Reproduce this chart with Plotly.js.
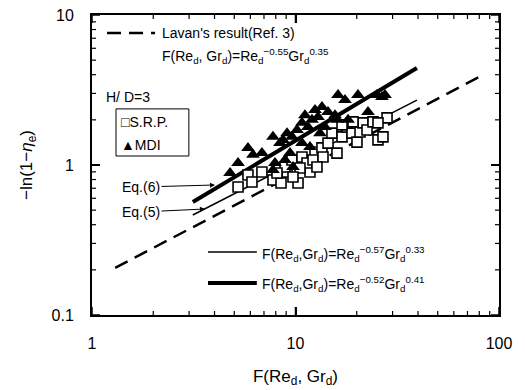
<!DOCTYPE html>
<html><head><meta charset="utf-8">
<script src="https://cdn.plot.ly/plotly-3.0.1.min.js"></script>
<style>body{margin:0;background:#fff}</style>
</head><body><div id="chart" style="width:525px;height:390px"></div>
<script>
// S.R.P. data (open squares)
const srpX = [5.22,5.84,6.11,6.84,7.75,8.49,10.29,9.09,8.88,9.61,10.76,11.78,11.39,12.47,13.49,14.45,15.99,15.11,16.93,17.91,18.95,20.05,20.75,21.47,22.46,16.93,24.04,25.43,26.91,28.17,25.43,19.17,12.19,13.65,12.75,10.52,8.11,9.72];
const srpY = [0.714,0.858,0.770,0.898,0.794,0.759,0.759,0.898,0.97,1.08,1.13,0.898,1.03,1.22,1.30,1.40,1.20,1.63,1.54,1.79,1.63,1.42,1.66,1.91,1.71,1.85,1.94,1.47,1.54,2.06,1.91,1.94,1.08,1.13,0.97,0.955,0.885,0.832];
// MDI data (filled triangles)
const mdiX = [4.77,5.22,5.84,6.18,6.84,7.75,8.39,8.68,9.09,9.61,10.17,10.76,11.13,11.52,12.05,12.47,12.90,13.49,14.45,15.64,16.18,17.51,20.28,22.71,25.15,27.53,26.61,7.93,8.88,9.40,10.76,11.78,13.19,13.96,18.12,15.99,9.72,7.75];
const mdiY = [0.885,1.03,1.30,1.17,1.20,1.54,1.40,1.47,1.63,1.54,1.71,1.91,2.15,1.79,2.00,2.33,2.09,2.44,2.26,2.15,2.93,2.71,2.93,2.26,2.93,2.93,2.84,1.03,1.08,1.20,1.40,1.32,1.63,1.79,2.00,2.00,0.97,0.926];
// Correlation lines
const lavanX = [1.30, 83.4], lavanY = [0.206, 3.98];
const eq5X = [3.13, 39.5], eq5Y = [0.464, 2.71];
const eq6X = [3.13, 39.5], eq6Y = [0.567, 4.43];
// Tick values and labels
const xTickVals = [1, 10, 100], xTickText = ['1', '10', '100'];
const yTickVals = [0.1, 1, 10], yTickText = ['0.1', '1', '10'];
const xMinorVals = [2,3,4,5,6,7,8,9,20,30,40,50,60,70,80,90];
const yMinorVals = [0.2,0.3,0.4,0.5,0.6,0.7,0.8,0.9,2,3,4,5,6,7,8,9];

const F = 'Liberation Sans, Arial, sans-serif';
const traces = [
  {x: [], y: [], xaxis: 'x3', yaxis: 'y3', mode: 'lines', showlegend: false, hoverinfo: 'skip'},
  {x: lavanX, y: lavanY, mode: 'lines', line: {color: '#000', width: 2.5, dash: '14px,8px'}, showlegend: false, name: "Lavan's result(Ref. 3)"},
  {x: eq5X, y: eq5Y, mode: 'lines', line: {color: '#000', width: 1.5}, showlegend: false, name: 'Eq.(5)'},
  {x: eq6X, y: eq6Y, mode: 'lines', line: {color: '#000', width: 4}, showlegend: false, name: 'Eq.(6)'},
  {x: srpX, y: srpY, mode: 'markers', marker: {symbol: 'square', size: 10, color: '#fff', line: {color: '#000', width: 1.6}}, showlegend: false, name: 'S.R.P.'},
  {x: mdiX, y: mdiY, mode: 'markers', marker: {symbol: 'triangle-up', size: 12, color: '#000', line: {width: 0}}, showlegend: false, name: 'MDI'}
];

// Inward tick marks on all four sides, placed on the log axes by value
const tickShapes = [];
function xTick(v, len, w) {
  tickShapes.push({type: 'line', xref: 'x', yref: 'paper', x0: v, x1: v, ysizemode: 'pixel', yanchor: 0, y0: 0, y1: len, line: {color: '#000', width: w}, layer: 'above'});
  tickShapes.push({type: 'line', xref: 'x', yref: 'paper', x0: v, x1: v, ysizemode: 'pixel', yanchor: 1, y0: 0, y1: -len, line: {color: '#000', width: w}, layer: 'above'});
}
function yTick(v, len, w) {
  tickShapes.push({type: 'line', yref: 'y', xref: 'paper', y0: v, y1: v, xsizemode: 'pixel', xanchor: 0, x0: 0, x1: len, line: {color: '#000', width: w}, layer: 'above'});
  tickShapes.push({type: 'line', yref: 'y', xref: 'paper', y0: v, y1: v, xsizemode: 'pixel', xanchor: 1, x0: 0, x1: -len, line: {color: '#000', width: w}, layer: 'above'});
}
xTickVals.forEach(v => xTick(v, 8, 1.5));
xMinorVals.forEach(v => xTick(v, 4, 1.2));
yTickVals.forEach(v => yTick(v, 8, 1.5));
yMinorVals.forEach(v => yTick(v, 4, 1.2));

const sub = 'F(Re<sub>d</sub>,Gr<sub>d</sub>)=Re<sub>d</sub>';
const ann = (x, y, text, opts) => Object.assign({xref: 'paper', yref: 'paper', x, y, text, showarrow: false, xanchor: 'left', yanchor: 'middle', font: {family: F, size: 14, color: '#000'}}, opts || {});
const noGrid = {showgrid: true, gridcolor: 'rgba(0,0,0,0)', gridwidth: 1};
// main axes: frame + major inside ticks
const majorCommon = Object.assign({type: 'log', showline: true, linecolor: '#000', linewidth: 2, mirror: 'allticks', ticks: 'inside', ticklen: 8, tickwidth: 1.5, tickcolor: '#000',
  showticklabels: false, tickmode: 'array'}, noGrid);
// overlay axes: labels pushed out by invisible outside ticks
const labelCommon = Object.assign({type: 'log', showline: false, ticks: 'outside', ticklen: 14, tickcolor: 'rgba(0,0,0,0)',
  showticklabels: true, tickmode: 'array', tickfont: {size: 16, family: F, color: '#000'}}, noGrid);
const layout = {
  width: 525, height: 390,
  margin: {l: 92, r: 26, t: 15, b: 75},
  xaxis: Object.assign({}, majorCommon, {range: [0, 2], tickvals: xTickVals, ticktext: xTickText}),
  yaxis: Object.assign({}, majorCommon, {range: [-1, 1], tickvals: yTickVals, ticktext: yTickText}),
  xaxis3: Object.assign({}, labelCommon, {range: [0, 2], tickvals: xTickVals, ticktext: xTickText, overlaying: 'x', anchor: 'y3', side: 'bottom',
    title: {text: 'F(Re<sub>d</sub>, Gr<sub>d</sub>)', font: {size: 17, family: F, color: '#000'}, standoff: 18}}),
  yaxis3: Object.assign({}, labelCommon, {range: [-1, 1], tickvals: yTickVals, ticktext: yTickText, overlaying: 'y', anchor: 'x3', side: 'left',
    title: {text: '−ln(1−<i>η</i><sub>e</sub>)', font: {size: 17, family: F, color: '#000'}, standoff: 14}}),
  shapes: [
    {type: 'line', xref: 'paper', yref: 'paper', x0: 0.037, x1: 0.155, y0: 0.94, y1: 0.94, line: {color: '#000', width: 2.5, dash: '14px,8px'}},
    {type: 'rect', xref: 'paper', yref: 'paper', x0: 0.059, x1: 0.238, y0: 0.53, y1: 0.687, line: {color: '#000', width: 1}},
    {type: 'line', xref: 'paper', yref: 'paper', x0: 0.285, x1: 0.405, y0: 0.21, y1: 0.21, line: {color: '#000', width: 1.5}},
    {type: 'line', xref: 'paper', yref: 'paper', x0: 0.285, x1: 0.405, y0: 0.107, y1: 0.107, line: {color: '#000', width: 4}}
  ].concat(tickShapes),
  annotations: [
    ann(0.167, 0.94, "Lavan's result(Ref. 3)"),
    ann(0.167, 0.862, 'F(Re<sub>d</sub>, Gr<sub>d</sub>)=Re<sub>d</sub><sup>−0.55</sup>Gr<sub>d</sub><sup>0.35</sup>'),
    ann(0.088, 0.726, 'H/ D=3', {xanchor: 'center'}),
    ann(0.066, 0.643, '□S.R.P.'),
    ann(0.066, 0.566, '▲MDI'),
    ann(0.413, 0.205, sub + '<sup>−0.57</sup>Gr<sub>d</sub><sup>0.33</sup>'),
    ann(0.413, 0.102, sub + '<sup>−0.52</sup>Gr<sub>d</sub><sup>0.41</sup>'),
    {xref: 'paper', yref: 'paper', x: (215-92)/407, y: (315-185)/300, text: 'Eq.(6)', showarrow: true, arrowhead: 2, arrowsize: 1, arrowwidth: 1, arrowcolor: '#000', ax: -74, ay: 2, font: {family: F, size: 14, color: '#000'}},
    {xref: 'paper', yref: 'paper', x: (205-92)/407, y: (315-209)/300, text: 'Eq.(5)', showarrow: true, arrowhead: 2, arrowsize: 1, arrowwidth: 1, arrowcolor: '#000', ax: -64, ay: 3, font: {family: F, size: 14, color: '#000'}}
  ]
};
Plotly.newPlot('chart', traces, layout, {displayModeBar: false});
</script></body></html>
